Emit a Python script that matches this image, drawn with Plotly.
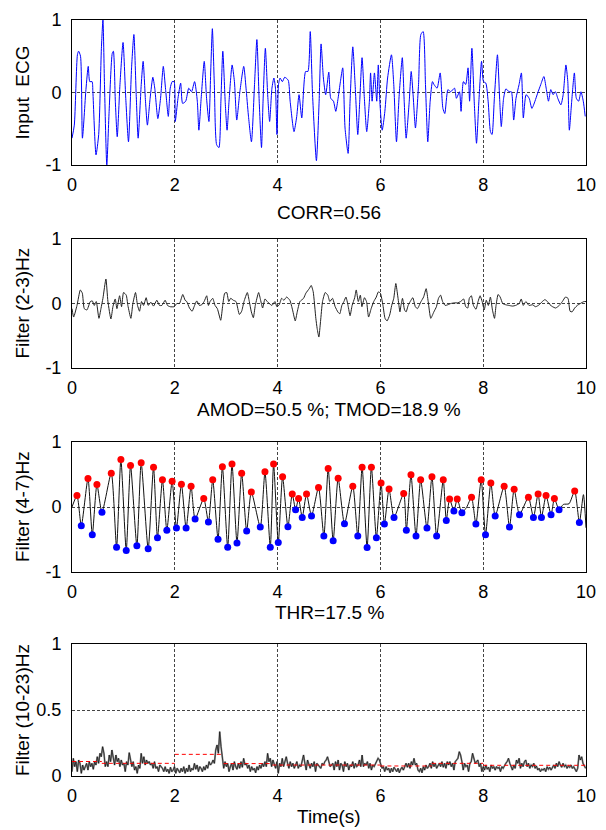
import plotly.graph_objects as go

# ---------------- data ----------------
# Panel 1: input ECG (time in s, amplitude)
ecg_t = [0.00,0.045,0.105,0.128,0.166,0.203,0.271,0.316,0.346,0.391,
         0.406,0.467,0.519,0.572,0.602,0.632,0.677,0.722,0.783,0.805,
         0.843,0.880,0.933,0.993,1.046,1.099,1.159,1.204,1.249,1.287,
         1.347,1.384,1.430,1.467,1.520,1.573,1.610,1.670,1.723,1.776,
         1.821,1.874,1.911,1.949,1.986,2.009,2.062,2.114,2.152,2.212,
         2.272,2.325,2.385,2.438,2.468,2.513,2.573,2.618,2.664,2.701,
         2.731,2.769,2.814,2.859,2.897,2.934,2.980,3.017,3.055,3.115,
         3.160,3.205,3.266,3.341,3.386,3.431,3.491,3.551,3.597,3.642,
         3.687,3.717,3.762,3.807,3.845,3.890,3.928,3.958,3.988,4.018,
         4.048,4.093,4.138,4.206,4.244,4.319,4.372,4.417,4.470,4.545,
         4.590,4.635,4.680,4.755,4.808,4.846,4.891,4.936,4.996,5.034,
         5.087,5.132,5.177,5.222,5.267,5.312,5.372,5.410,5.463,5.508,
         5.560,5.598,5.643,5.688,5.734,5.786,5.809,5.839,5.884,5.929,
         5.959,5.989,6.035,6.087,6.140,6.215,6.260,6.313,6.366,6.426,
         6.463,6.501,6.561,6.599,6.636,6.682,6.742,6.787,6.832,6.877,
         6.922,6.968,7.013,7.043,7.103,7.163,7.216,7.253,7.314,7.366,
         7.442,7.479,7.539,7.569,7.615,7.660,7.705,7.735,7.780,7.825,
         7.870,7.916,7.968,8.006,8.051,8.096,8.141,8.172,8.217,8.277,
         8.322,8.352,8.397,8.442,8.503,8.548,8.593,8.638,8.698,8.743,
         8.781,8.834,8.894,8.947,9.007,9.059,9.120,9.180,9.225,9.270,
         9.315,9.360,9.406,9.451,9.511,9.556,9.609,9.646,9.676,9.722,
         9.774,9.812,9.857,9.902,9.947,9.985]
ecg_v = [-0.63,-0.45,0.52,0.57,0.50,-0.63,0.04,0.36,0.15,0.15,
         0.01,-0.86,-0.58,0.61,1.0,0.11,-1.0,-0.26,0.54,0.57,
         -0.12,-0.61,0.11,0.69,-0.08,-0.68,0.34,0.80,-0.03,-0.63,
         0.11,0.43,-0.12,-0.45,-0.08,0.21,0.06,-0.36,-0.08,0.36,
         0.04,-0.33,0.06,0.15,0.15,-0.40,-0.08,0.13,-0.15,-0.12,
         0.06,0.01,0.15,-0.12,-0.52,-0.08,0.43,-0.08,-0.40,0.34,
         0.88,0.11,-0.72,-0.76,-0.12,0.57,-0.12,-0.52,-0.12,0.38,
         0.15,-0.38,0.01,0.36,0.06,-0.31,-0.68,0.11,0.73,-0.12,
         -0.76,-0.12,0.61,-0.03,-0.40,0.06,0.20,0.06,-0.58,0.11,
         0.20,0.15,0.21,0.17,-0.12,-0.54,-0.33,-0.03,-0.35,0.29,
         0.29,0.84,-0.03,-0.94,-0.12,0.67,0.20,-0.03,0.28,-0.08,
         -0.12,-0.26,-0.08,0.15,0.34,-0.49,-0.84,-0.12,0.63,0.11,
         -0.58,-0.12,0.48,-0.08,-0.54,-0.12,0.27,-0.12,0.27,-0.12,
         0.38,-0.12,-0.52,-0.26,0.20,0.52,0.11,-0.68,-0.03,0.48,
         -0.12,-0.63,-0.12,0.29,-0.03,-0.49,0.11,0.80,0.84,0.11,
         -0.68,-0.12,0.15,0.11,0.06,0.27,-0.22,-0.29,0.04,0.01,
         0.06,-0.08,0.01,-0.26,0.15,0.11,0.34,-0.12,0.61,-0.12,
         -0.70,-0.12,0.43,0.15,0.13,-0.12,-0.54,-0.58,-0.08,0.52,
         -0.12,-0.47,-0.08,0.05,0.01,0.01,-0.38,-0.08,0.11,0.27,
         -0.35,-0.03,-0.08,-0.22,-0.12,-0.01,0.11,0.22,0.06,-0.12,
         0.04,-0.03,0.01,-0.08,-0.17,-0.03,0.38,0.15,-0.52,-0.12,
         0.27,-0.08,-0.12,0.01,-0.12,-0.33]

# Panel 2: filtered (2-3 Hz)
f23_t = [0.000,0.032,0.097,0.162,0.201,0.239,0.291,0.356,0.395,0.434,
         0.472,0.524,0.563,0.602,0.660,0.699,0.757,0.796,0.841,0.874,
         0.926,0.964,1.003,1.055,1.087,1.146,1.184,1.236,1.275,1.314,
         1.353,1.392,1.443,1.482,1.534,1.586,1.650,1.702,1.748,1.812,
         1.858,1.909,1.987,2.039,2.091,2.155,2.201,2.233,2.285,2.337,
         2.375,2.427,2.479,2.524,2.570,2.621,2.654,2.686,2.738,2.783,
         2.828,2.893,2.932,2.971,3.010,3.049,3.087,3.139,3.191,3.256,
         3.301,3.346,3.411,3.450,3.489,3.528,3.566,3.631,3.670,3.709,
         3.754,3.799,3.838,3.890,3.948,3.987,4.032,4.078,4.123,4.175,
         4.239,4.291,4.343,4.382,4.434,4.505,4.550,4.615,4.654,4.693,
         4.744,4.770,4.803,4.835,4.874,4.926,4.977,5.016,5.068,5.120,
         5.172,5.21,5.25,5.29,5.33,5.37,5.41,5.45,5.50,5.53,
         5.57,5.61,5.64,5.69,5.73,5.77,5.82,5.87,5.92,5.96,
         6.00,6.05,6.09,6.13,6.18,6.22,6.26,6.30,6.34,6.38,
         6.40,6.43,6.47,6.50,6.54,6.58,6.63,6.68,6.72,6.79,
         6.84,6.89,6.93,6.98,7.04,7.09,7.13,7.17,7.21,7.26,
         7.31,7.37,7.44,7.50,7.56,7.62,7.66,7.70,7.73,7.77,
         7.81,7.86,7.90,7.94,7.98,8.02,8.06,8.10,8.14,8.18,
         8.22,8.25,8.29,8.33,8.38,8.44,8.50,8.57,8.63,8.70,
         8.74,8.78,8.83,8.89,8.96,9.02,9.09,9.15,9.20,9.25,
         9.30,9.35,9.41,9.48,9.54,9.60,9.65,9.69,9.73,9.78,
         9.83,9.89,9.96,10.0]
f23_v = [-0.08,-0.21,-0.03,0.21,0.16,-0.08,-0.10,0.03,0.04,-0.03,
         0.03,-0.23,-0.08,0.08,0.38,0.03,-0.24,-0.05,0.07,-0.08,
         0.12,-0.05,0.17,0.13,-0.03,-0.23,0.00,0.17,-0.03,-0.12,
         0.03,-0.03,0.09,-0.03,0.02,-0.04,0.05,-0.03,-0.03,0.05,
         -0.03,-0.05,-0.05,0.00,0.00,0.14,0.05,0.03,-0.07,-0.12,
         -0.05,0.04,-0.03,-0.02,0.03,0.12,-0.03,0.03,0.08,-0.03,
         -0.08,-0.26,-0.03,0.16,0.17,0.03,0.08,0.05,0.03,-0.17,
         -0.12,0.03,0.17,0.03,-0.13,-0.22,-0.03,0.17,0.05,-0.07,
         0.07,0.03,0.00,-0.03,0.03,-0.05,-0.02,0.08,0.05,0.10,
         0.05,-0.10,-0.27,-0.13,0.03,0.08,0.16,0.23,0.28,0.18,
         -0.23,-0.39,-0.52,-0.28,0.03,0.17,0.13,0.03,0.08,-0.05,
         -0.13,-0.16,-0.03,0.03,0.10,-0.03,-0.19,-0.03,0.09,0.21,
         0.03,0.13,-0.05,0.09,0.03,-0.21,-0.08,0.03,0.10,0.18,
         0.16,-0.03,-0.23,-0.27,-0.18,-0.03,0.08,0.31,0.10,-0.13,
         -0.03,0.08,-0.10,-0.13,-0.03,0.03,0.09,-0.05,-0.08,0.03,
         0.10,0.23,0.03,-0.23,-0.13,-0.05,0.08,0.13,0.03,-0.03,
         -0.02,0.00,0.01,0.01,0.03,0.07,-0.05,-0.07,0.08,0.12,
         -0.03,-0.09,0.03,0.12,0.03,-0.10,0.05,-0.03,0.10,-0.10,
         -0.23,-0.03,0.14,0.10,0.00,-0.02,-0.03,-0.04,-0.03,0.00,
         0.07,-0.03,0.03,-0.03,-0.02,-0.05,-0.02,0.03,0.06,0.03,
         -0.02,-0.05,-0.07,-0.03,0.03,0.10,0.08,-0.12,-0.13,-0.07,
         -0.03,0.00,0.03,0.03]

# Panel 3: filtered (4-7 Hz) - detected maxima / minima and in-between wiggles
peak_t = [0.097,0.311,0.485,0.764,0.951,1.139,1.346,1.586,1.760,1.948,
          2.129,2.317,2.563,2.738,2.926,3.113,3.301,3.489,3.754,3.922,
          4.097,4.285,4.408,4.563,4.796,4.984,5.178,
          5.463,5.644,5.825,6.013,6.168,6.453,6.595,6.783,7.003,7.223,
          7.346,7.495,7.773,7.961,8.149,8.408,8.602,8.880,9.068,9.223,
          9.385,9.780]
peak_v = [0.175,0.438,0.345,0.521,0.732,0.639,0.680,0.613,0.418,0.397,
          0.351,0.320,0.129,0.418,0.619,0.660,0.521,0.232,0.541,0.660,
          0.464,0.201,0.129,0.201,0.299,0.593,0.443,
          0.320,0.613,0.613,0.371,0.278,0.206,0.495,0.418,0.464,0.418,
          0.124,0.124,0.149,0.418,0.371,0.320,0.273,0.149,0.201,0.175,
          0.129,0.247]
trough_t = [0.181,0.395,0.583,0.867,1.055,1.262,1.482,1.663,1.845,2.032,
            2.220,2.395,2.654,2.841,3.029,3.210,3.398,3.663,3.858,4.013,
            4.201,4.350,4.479,4.660,4.900,5.081,
            5.301,5.560,5.741,5.922,6.078,6.265,6.505,6.693,6.906,7.094,
            7.282,7.430,7.586,7.858,8.045,8.233,8.511,8.706,8.977,9.133,
            9.320,9.476,9.871]
trough_v = [-0.289,-0.428,-0.082,-0.619,-0.670,-0.598,-0.644,-0.474,-0.356,-0.325,
            -0.325,-0.186,-0.232,-0.495,-0.619,-0.552,-0.371,-0.309,-0.619,-0.546,
            -0.304,-0.041,-0.160,-0.139,-0.448,-0.521,
            -0.258,-0.448,-0.624,-0.474,-0.263,-0.160,-0.356,-0.448,-0.325,-0.448,
            -0.206,-0.062,-0.088,-0.263,-0.428,-0.139,-0.309,-0.119,-0.160,-0.160,
            -0.119,-0.041,-0.237]
wiggle_t = [0.0, 7.68, 9.56, 9.67, 9.95, 10.0]
wiggle_v = [0.0, 0.0, 0.04, 0.05, 0.19, -0.32]

# Panel 4: filtered (10-23 Hz) envelope, uniformly sampled
hf_dt = 0.02589
hf_v = [0.033,0.134,0.071,0.109,0.033,0.121,0.096,0.020,0.083,0.045,
        0.071,0.096,0.045,0.109,0.071,0.096,0.051,0.109,0.083,0.146,
        0.096,0.172,0.146,0.222,0.172,0.071,0.109,0.071,0.159,0.109,
        0.197,0.146,0.083,0.159,0.109,0.134,0.071,0.121,0.083,0.096,
        0.033,0.109,0.083,0.177,0.121,0.071,0.109,0.045,0.071,0.020,
        0.083,0.058,0.172,0.096,0.146,0.083,0.121,0.096,0.109,0.083,
        0.096,0.058,0.109,0.058,0.071,0.033,0.083,0.071,0.058,0.033,
        0.071,0.033,0.051,0.020,0.066,0.033,0.045,0.071,0.020,0.058,
        0.045,0.025,0.058,0.033,0.071,0.020,0.058,0.033,0.083,0.033,
        0.058,0.045,0.096,0.051,0.083,0.033,0.071,0.058,0.033,0.071,
        0.045,0.083,0.058,0.109,0.083,0.096,0.121,0.096,0.197,0.235,
        0.172,0.336,0.222,0.121,0.058,0.109,0.071,0.096,0.033,0.071,
        0.096,0.045,0.109,0.071,0.051,0.096,0.058,0.109,0.066,0.134,
        0.083,0.096,0.058,0.083,0.033,0.071,0.045,0.058,0.025,0.071,
        0.045,0.083,0.058,0.096,0.071,0.109,0.071,0.172,0.109,0.134,
        0.071,0.121,0.096,0.058,0.109,0.020,0.096,0.071,0.134,0.071,
        0.109,0.146,0.096,0.058,0.109,0.071,0.096,0.058,0.083,0.109,
        0.058,0.083,0.071,0.109,0.159,0.096,0.045,0.121,0.083,0.058,
        0.096,0.071,0.109,0.033,0.096,0.083,0.071,0.058,0.096,0.083,
        0.109,0.121,0.146,0.096,0.071,0.083,
        0.096,0.045,0.109,0.071,0.121,0.045,0.096,0.083,0.033,0.109,
        0.071,0.096,0.045,0.083,0.071,0.109,0.058,0.096,0.071,0.083,
        0.121,0.071,0.159,0.071,0.096,0.083,0.109,0.058,0.096,0.045,
        0.083,0.071,0.096,0.109,0.134,0.121,0.083,0.058,0.071,0.033,
        0.071,0.045,0.058,0.025,0.058,0.033,0.066,0.045,0.033,0.058,
        0.025,0.051,0.066,0.045,0.071,0.096,0.066,0.096,0.058,0.109,
        0.083,0.134,0.083,0.096,0.045,0.033,0.058,0.025,0.071,0.045,
        0.083,0.058,0.071,0.096,0.058,0.109,0.071,0.096,0.058,0.083,
        0.096,0.071,0.109,0.066,0.096,0.058,0.109,0.083,0.109,0.071,
        0.096,0.045,0.109,0.121,0.134,0.184,0.159,0.109,0.045,0.096,
        0.071,0.083,0.033,0.096,0.109,0.172,0.134,0.096,0.109,0.121,
        0.071,0.096,0.033,0.071,0.045,0.083,0.051,0.066,0.033,0.083,
        0.058,0.071,0.045,0.071,0.058,0.066,0.033,0.071,0.058,0.083,
        0.096,0.109,0.134,0.096,0.071,0.045,0.083,0.058,0.121,0.096,
        0.134,0.058,0.096,0.071,0.109,0.121,0.071,0.096,0.058,0.083,
        0.071,0.096,0.058,0.076,0.045,0.058,0.033,0.051,0.045,0.058,
        0.033,0.071,0.051,0.066,0.045,0.071,0.083,0.058,0.096,0.071,
        0.109,0.083,0.066,0.096,0.071,0.083,0.058,0.076,0.066,0.083,
        0.058,0.071,0.051,0.033,0.058,0.159,0.121,0.146,0.096,0.071,
        0.058]
hf_t = [i * hf_dt for i in range(len(hf_v))]

# Panel 4: threshold segments (red dashed)
thr_start = [0.0, 0.58, 2.0, 2.95, 3.9, 6.0, 7.0, 8.0]
thr_end   = [0.58, 2.0, 2.95, 3.9, 6.0, 7.0, 8.0, 10.0]
thr_val   = [0.11, 0.096, 0.164, 0.094, 0.083, 0.076, 0.096, 0.081]

x_ticks = [0, 2, 4, 6, 8, 10]
titles = ["CORR=0.56", "AMOD=50.5 %; TMOD=18.9 %", "THR=17.5 %"]
ylabels = ["Input  ECG", "Filter (2-3)Hz", "Filter (4-7)Hz", "Filter (10-23)Hz"]
xlabel = "Time(s)"

# ---------------- layout geometry (pixels) ----------------
W, H = 606, 830
FONT = "Liberation Sans, Arial, sans-serif"
TICK_SIZE = 18
TEXT_SIZE = 19
x_dom = [72 / W, 586 / W]
panels_px = [(20, 165), (239, 368), (442, 572), (644, 776)]
title_y_px = [212, 410, 612]
def ydom(top, bot):
    return [1 - bot / H, 1 - top / H]

fig = go.Figure()

# panel 1
fig.add_trace(go.Scatter(x=ecg_t, y=ecg_v, mode="lines",
                         line=dict(color="#0000ff", width=1, shape="spline", smoothing=0.6),
                         xaxis="x", yaxis="y"))
# panel 2
fig.add_trace(go.Scatter(x=f23_t, y=f23_v, mode="lines",
                         line=dict(color="#222222", width=1, shape="spline", smoothing=0.5),
                         xaxis="x2", yaxis="y2"))
# panel 3 line through extrema
pts = sorted(list(zip(peak_t, peak_v)) + list(zip(trough_t, trough_v)) + list(zip(wiggle_t, wiggle_v)))
fig.add_trace(go.Scatter(x=[p[0] for p in pts], y=[p[1] for p in pts], mode="lines",
                         line=dict(color="#111111", width=1, shape="spline", smoothing=0.6),
                         xaxis="x3", yaxis="y3"))
fig.add_trace(go.Scatter(x=peak_t, y=peak_v, mode="markers",
                         marker=dict(color="#ff0000", size=7), xaxis="x3", yaxis="y3"))
fig.add_trace(go.Scatter(x=trough_t, y=trough_v, mode="markers",
                         marker=dict(color="#0000ff", size=7), xaxis="x3", yaxis="y3"))
# panel 4
fig.add_trace(go.Scatter(x=hf_t, y=hf_v, mode="lines",
                         line=dict(color="#8a8a8a", width=1.8), xaxis="x4", yaxis="y4"))
fig.add_trace(go.Scatter(x=hf_t, y=hf_v, mode="lines",
                         line=dict(color="#000000", width=0.6), xaxis="x4", yaxis="y4"))
thr_x, thr_y = [], []
for s, e, v in zip(thr_start, thr_end, thr_val):
    thr_x += [s, e, None]
    thr_y += [v, v, None]
fig.add_trace(go.Scatter(x=thr_x, y=thr_y, mode="lines",
                         line=dict(color="#ff0000", width=1, dash="4px,3px"), xaxis="x4", yaxis="y4"))

layout = dict(width=W, height=H, autosize=False,
              margin=dict(l=0, r=0, t=0, b=0, pad=0, autoexpand=False),
              paper_bgcolor="white", plot_bgcolor="white", showlegend=False,
              font=dict(family=FONT, size=TICK_SIZE, color="black"))

grid_common = dict(showgrid=True, gridcolor="#444444", gridwidth=1, griddash="3px,2px",
                   showline=True, linecolor="#000000", linewidth=1, mirror=True,
                   zeroline=False, ticks="", automargin=False,
                   tickfont=dict(family=FONT, size=TICK_SIZE, color="black"))

for i, (top, bot) in enumerate(panels_px):
    n = "" if i == 0 else str(i + 1)
    layout["xaxis" + n] = dict(domain=x_dom, anchor="y" + n, range=[0, 10],
                               tickvals=x_ticks, ticklabelstandoff=3, **grid_common)
    if i < 3:
        yr, yt, ytt = [-1, 1], [-1, 0, 1], ["-1", "0", "1"]
    else:
        yr, yt, ytt = [0, 1], [0, 0.5, 1], ["0", "0.5", "1"]
    layout["yaxis" + n] = dict(domain=ydom(top, bot), anchor="x" + n, range=yr,
                               tickvals=yt, ticktext=ytt, ticklabelstandoff=6, **grid_common)

ann = []
for i, (top, bot) in enumerate(panels_px):
    ann.append(dict(text=ylabels[i], x=22 / W, y=1 - (top + bot) / 2 / H, xref="paper", yref="paper",
                    textangle=-90, showarrow=False, xanchor="center", yanchor="middle",
                    font=dict(family=FONT, size=TEXT_SIZE, color="black")))
for txt, yc in zip(titles, title_y_px):
    ann.append(dict(text=txt, x=329 / W, y=1 - yc / H, xref="paper", yref="paper",
                    showarrow=False, xanchor="center", yanchor="middle",
                    font=dict(family=FONT, size=TEXT_SIZE, color="black")))
ann.append(dict(text=xlabel, x=329 / W, y=1 - 816 / H, xref="paper", yref="paper",
                showarrow=False, xanchor="center", yanchor="middle",
                font=dict(family=FONT, size=TEXT_SIZE, color="black")))
layout["annotations"] = ann

fig.update_layout(**layout)
fig.write_html("out.html", config={"displayModeBar": False},
               post_script="document.body.style.margin='0px';document.body.style.overflow='hidden';")
